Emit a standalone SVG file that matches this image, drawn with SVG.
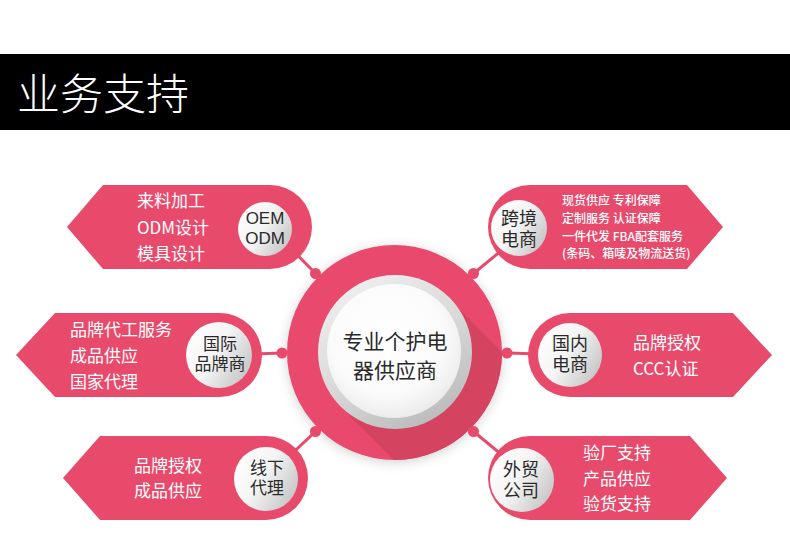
<svg xmlns="http://www.w3.org/2000/svg" width="790" height="536" viewBox="0 0 790 536">
<style>
.pink{fill:#e84a6c}
.line{stroke:#e84a6c;stroke-width:3;fill:none}
.dot{fill:#e84a6c}
.wt{fill:#ffffff;font-family:"Noto Sans CJK SC","Noto Sans",sans-serif;font-size:17px}
.wts{fill:#ffffff;font-family:"Noto Sans CJK SC","Noto Sans",sans-serif;font-size:12px;font-weight:500}
.ct{fill:#2a2a2a;font-family:"Liberation Sans","Noto Sans CJK SC",sans-serif;text-anchor:middle}
.gc{fill:url(#gcGrad)}
</style>
<defs>
<linearGradient id="gcGrad" x1="0" y1="0.2" x2="1" y2="0.8">
<stop offset="0" stop-color="#ffffff"/>
<stop offset="0.45" stop-color="#f4f4f4"/>
<stop offset="1" stop-color="#c2c2c2"/>
</linearGradient>
<linearGradient id="ringGrad" x1="0.2" y1="0" x2="0.8" y2="1">
<stop offset="0" stop-color="#f0f0f0"/>
<stop offset="0.5" stop-color="#d9d9d9"/>
<stop offset="1" stop-color="#b8b8b8"/>
</linearGradient>
<radialGradient id="innerGrad" cx="0.45" cy="0.4" r="0.6">
<stop offset="0" stop-color="#ffffff"/>
<stop offset="0.7" stop-color="#fbfbfb"/>
<stop offset="1" stop-color="#ececec"/>
</radialGradient>
<clipPath id="outerClip"><circle cx="394.5" cy="352.5" r="107.5"/></clipPath>
<filter id="softShadow" x="-30%" y="-30%" width="160%" height="160%">
<feDropShadow dx="0" dy="2" stdDeviation="6" flood-color="#000" flood-opacity="0.18"/>
</filter>
</defs>
<rect width="790" height="536" fill="#ffffff"/>
<g id="header">
<rect x="0" y="54" width="790" height="76" fill="#000000"/>
<text x="17" y="110" fill="#ffffff" font-family="Noto Sans CJK SC,Noto Sans,sans-serif" font-size="43" font-weight="300">业务支持</text>
</g>
<g id="connectors">
<line class="line" x1="315.5" y1="273.5" x2="270" y2="227"/>
<line class="line" x1="473.5" y1="273.5" x2="530" y2="227"/>
<line class="line" x1="282" y1="353" x2="220" y2="355"/>
<line class="line" x1="507" y1="353" x2="570" y2="355"/>
<line class="line" x1="315.5" y1="431.5" x2="266" y2="478"/>
<line class="line" x1="473.5" y1="431.5" x2="530" y2="478"/>
</g>
<g id="center">
<circle cx="394.5" cy="352.5" r="107.5" class="pink" filter="url(#softShadow)"/>
<polygon points="448.5,298.5 660,510 552,618 340.5,406.5" fill="#d4435f" clip-path="url(#outerClip)"/>
<circle cx="395" cy="352" r="77" fill="url(#ringGrad)"/>
<circle cx="394" cy="351" r="67" fill="url(#innerGrad)"/>
<text class="ct" font-size="21" x="395" y="349">专业个护电</text>
<text class="ct" font-size="21" x="395" y="378">器供应商</text>
</g>
<g id="dots">
<circle class="dot" cx="315.5" cy="273.5" r="5.5"/>
<circle class="dot" cx="473.5" cy="273.5" r="5.5"/>
<circle class="dot" cx="282" cy="353" r="5.5"/>
<circle class="dot" cx="507" cy="353" r="5.5"/>
<circle class="dot" cx="315.5" cy="431.5" r="5.5"/>
<circle class="dot" cx="473.5" cy="431.5" r="5.5"/>
</g>
<g id="node-oem">
<path class="pink" d="M67,227 L103,185 L270,185 A42,42 0 0 1 270,269 L103,269 Z"/>
<circle class="gc" cx="265" cy="229" r="27"/>
<text class="ct" font-size="17" x="265" y="224">OEM</text>
<text class="ct" font-size="17" x="265" y="244">ODM</text>
<text class="wt" x="137" y="207">来料加工</text>
<text class="wt" x="137" y="234">ODM设计</text>
<text class="wt" x="137" y="260">模具设计</text>
</g>
<g id="node-crossborder">
<path class="pink" d="M723,227 L687,185 L530,185 A42,42 0 0 0 530,269 L687,269 Z"/>
<circle class="gc" cx="519" cy="228" r="28"/>
<text class="ct" font-size="18" x="519" y="225">跨境</text>
<text class="ct" font-size="18" x="519" y="246">电商</text>
<text class="wts" x="562" y="205">现货供应 专利保障</text>
<text class="wts" x="562" y="223">定制服务 认证保障</text>
<text class="wts" x="562" y="241">一件代发 FBA配套服务</text>
<text class="wts" x="562" y="258">(条码、箱唛及物流送货)</text>
</g>
<g id="node-intlbrand">
<path class="pink" d="M16,355 L55,313 L220,313 A42,42 0 0 1 220,397 L55,397 Z"/>
<circle class="gc" cx="219" cy="355" r="33"/>
<text class="ct" font-size="17" x="220" y="350">国际</text>
<text class="ct" font-size="17" x="220" y="370">品牌商</text>
<text class="wt" x="70" y="336">品牌代工服务</text>
<text class="wt" x="70" y="362">成品供应</text>
<text class="wt" x="70" y="388">国家代理</text>
</g>
<g id="node-domestic">
<path class="pink" d="M772,355 L733,313 L570,313 A42,42 0 0 0 570,397 L733,397 Z"/>
<circle class="gc" cx="570" cy="355" r="32"/>
<text class="ct" font-size="18" x="570" y="350">国内</text>
<text class="ct" font-size="18" x="570" y="371">电商</text>
<text class="wt" x="633" y="349">品牌授权</text>
<text class="wt" x="633" y="375">CCC认证</text>
</g>
<g id="node-offline">
<path class="pink" d="M63,478 L100,436 L266,436 A42,42 0 0 1 266,520 L100,520 Z"/>
<circle class="gc" cx="266" cy="479" r="32"/>
<text class="ct" font-size="17" x="267" y="474">线下</text>
<text class="ct" font-size="17" x="267" y="494">代理</text>
<text class="wt" x="134" y="472">品牌授权</text>
<text class="wt" x="134" y="497">成品供应</text>
</g>
<g id="node-trade">
<path class="pink" d="M727,478 L690,436 L530,436 A42,42 0 0 0 530,520 L690,520 Z"/>
<circle class="gc" cx="522" cy="480" r="32"/>
<text class="ct" font-size="18" x="521" y="476">外贸</text>
<text class="ct" font-size="18" x="521" y="497">公司</text>
<text class="wt" x="583" y="459">验厂支持</text>
<text class="wt" x="583" y="485">产品供应</text>
<text class="wt" x="583" y="510">验货支持</text>
</g>
</svg>
